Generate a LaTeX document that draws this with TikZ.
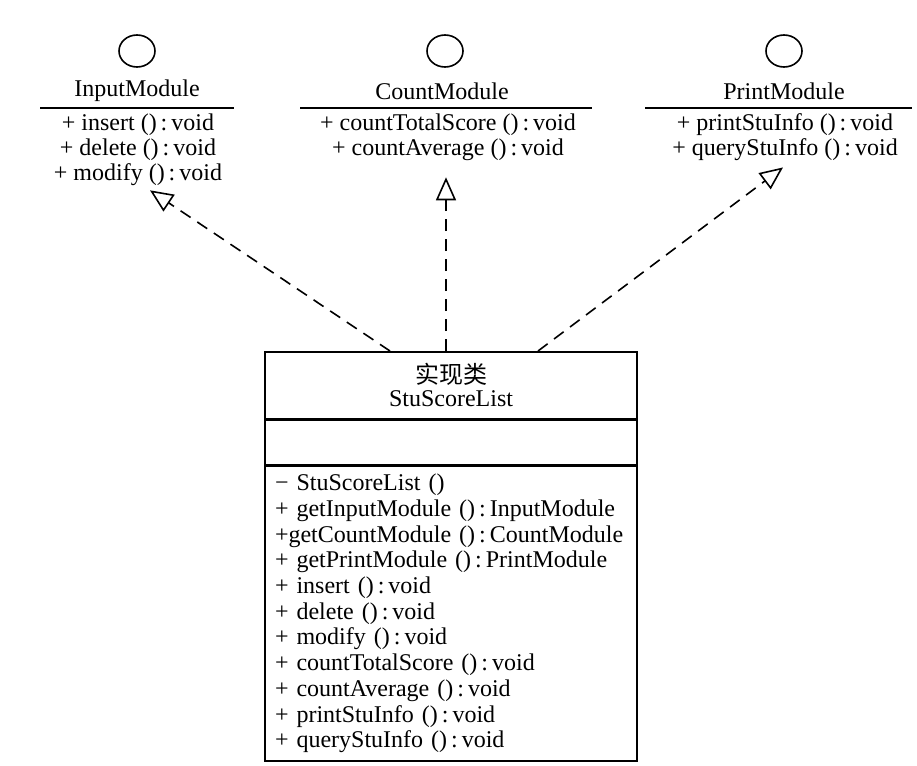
\documentclass[tikz,border=0pt]{standalone}
\usepackage{fontspec}
\setmainfont{Liberation Serif}
\newfontfamily\cjk{Noto Sans CJK SC}
\usetikzlibrary{arrows.meta,positioning,shapes.geometric}

\begin{document}
\begin{tikzpicture}[x=0.5pt, y=-0.5pt,
    lolly/.style={draw, ellipse, line width=0.8pt, minimum width=18pt,
                  minimum height=16pt, inner sep=0pt},
    iname/.style={font=\fontsize{12}{14}\selectfont, inner sep=0pt},
    iops/.style={align=center, font=\fontsize{12}{12.5}\selectfont, inner sep=0pt},
    bar/.style={line width=0.8pt},
    box/.style={draw, line width=0.8pt, minimum width=186pt, inner sep=0pt},
    impl/.style={dash pattern=on 6pt off 4pt, line width=0.8pt,
                 -{Triangle[open, length=11.5pt, width=10pt]}}
]
    \useasboundingbox (0,0) rectangle (917,766);

    % interfaces
    \node[lolly] (incirc)  at (137,51) {};
    \node[lolly] (cntcirc) at (445,51) {};
    \node[lolly] (prcirc)  at (784,51) {};

    \node[iname] (inname)  at (137,91) {InputModule};
    \node[iname] (cntname) at (442,91) {CountModule};
    \node[iname] (prname)  at (784,91) {PrintModule};

    \draw[bar] (40,108) -- (234,108);
    \draw[bar] (300,108) -- (592,108);
    \draw[bar] (645,108) -- (912,108);

    \node[iops] (inops)  at (138,150)   {+ insert ()\,:\,void\\+ delete ()\,:\,void\\+ modify ()\,:\,void};
    \node[iops] (cntops) at (448,137.5) {+ countTotalScore ()\,:\,void\\+ countAverage ()\,:\,void};
    \node[iops] (props)  at (785,137.5) {+ printStuInfo ()\,:\,void\\+ queryStuInfo ()\,:\,void};

    % implementing class
    \node[box, anchor=north, minimum height=33.5pt, align=center,
          font=\fontsize{12}{11.5}\selectfont] (stutitle) at (451,351)
          {{\cjk 实现类}\\StuScoreList};
    \node[box, minimum height=22pt, below=0pt of stutitle] (stuattr) {};
    \node[box, minimum height=147.5pt, below=0pt of stuattr, align=left,
          text width=176pt, font=\fontsize{12}{12.85}\selectfont] (stuops)
          {− StuScoreList ()\\
           + getInputModule ()\,:\,InputModule\\
           +getCountModule ()\,:\,CountModule\\
           + getPrintModule ()\,:\,PrintModule\\
           + insert ()\,:\,void\\
           + delete ()\,:\,void\\
           + modify ()\,:\,void\\
           + countTotalScore ()\,:\,void\\
           + countAverage ()\,:\,void\\
           + printStuInfo ()\,:\,void\\
           + queryStuInfo ()\,:\,void};

    \draw[impl] ([xshift=-30.5pt]stutitle.north) -- ([xshift=6pt, yshift=-2pt]inops.south);
    \draw[impl] ([xshift=-2.5pt]stutitle.north)  -- ([xshift=-1pt, yshift=-8pt]cntops.south);
    \draw[impl] ([xshift=43.5pt]stutitle.north)  -- ([xshift=-1pt, yshift=-3pt]props.south);
\end{tikzpicture}
\end{document}
